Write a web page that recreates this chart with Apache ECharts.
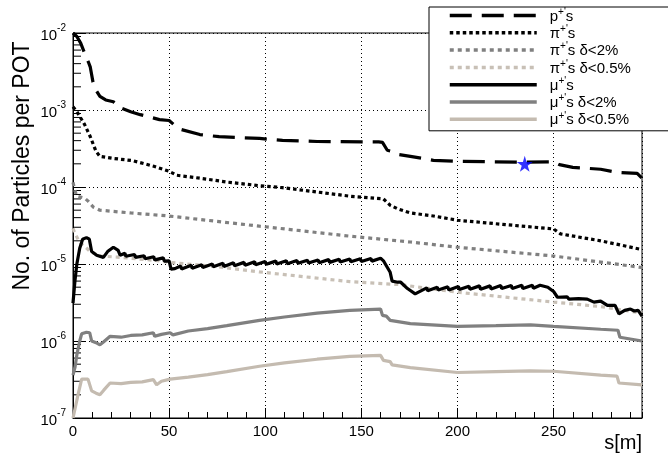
<!DOCTYPE html>
<html>
<head>
<meta charset="utf-8">
<script src="https://cdn.jsdelivr.net/npm/echarts@6/dist/echarts.min.js"></script>
<style>
  html, body { margin: 0; padding: 0; background: #fff; }
  #chart { width: 668px; height: 457px; }
</style>
</head>
<body>
<div id="chart"></div>
<script>
// [s in m, particles per POT]
const protons = [
  [0, 1.0e-2], [2, 9.0e-3], [4, 7.4e-3], [6, 5.5e-3], [8, 4.2e-3], [9, 3.6e-3],
  [10.4, 2.3e-3], [12, 1.8e-3], [14, 1.5e-3], [17, 1.35e-3], [21, 1.28e-3],
  [24.5, 1.07e-3], [30, 9.5e-4], [35, 8.7e-4], [45, 7.5e-4], [50, 7.3e-4],
  [53, 6.3e-4], [56, 5.6e-4], [66, 4.8e-4], [76, 4.5e-4], [97, 4.27e-4],
  [109, 4.03e-4], [127, 3.9e-4], [159, 3.85e-4], [161, 3.8e-4], [163.5, 3.0e-4],
  [166, 2.9e-4], [169, 2.65e-4], [175.5, 2.5e-4], [187.5, 2.22e-4], [200, 2.15e-4],
  [235, 2.1e-4], [250, 2.12e-4], [253, 1.95e-4], [260, 1.8e-4], [274.5, 1.7e-4],
  [283, 1.55e-4], [293.5, 1.5e-4], [296, 1.3e-4]
];
const pions = [
  [0, 1.1e-3], [2, 9.5e-4], [3.6, 8.2e-4], [6, 6.5e-4], [9, 4.5e-4], [10.5, 3.6e-4],
  [12, 2.9e-4], [14, 2.5e-4], [21, 2.35e-4], [31, 2.2e-4], [42, 1.86e-4], [50, 1.6e-4],
  [54, 1.42e-4], [66, 1.3e-4], [80, 1.16e-4], [97, 1.04e-4], [109, 9.8e-5], [127, 8.6e-5],
  [144, 7.6e-5], [161.5, 7.0e-5], [165, 5.8e-5], [169, 5.2e-5], [175.5, 4.6e-5],
  [187.5, 4.2e-5], [200, 3.7e-5], [222, 3.3e-5], [250, 2.85e-5], [253.6, 2.46e-5],
  [274.5, 2.0e-5], [296, 1.54e-5]
];
const pions2 = [
  [0, 1.15e-4], [1, 9.0e-5], [2, 7.6e-5], [6, 7.2e-5], [8, 6.5e-5], [10.5, 5.5e-5],
  [14, 5.0e-5], [30, 4.6e-5], [50, 4.2e-5], [97, 3.1e-5], [144, 2.3e-5], [175.5, 1.93e-5],
  [200, 1.65e-5], [250, 1.27e-5], [274.5, 1.06e-5], [296, 9.0e-6]
];
const pions05 = [
  [0, 2.9e-5], [1, 2.5e-5], [3.5, 1.9e-5], [6, 1.7e-5], [9, 1.45e-5], [14, 1.27e-5],
  [23, 1.23e-5], [45, 1.1e-5], [50, 1.05e-5], [76, 9.2e-6], [97, 7.9e-6], [144, 5.9e-6],
  [170, 5.4e-6], [200, 4.3e-6], [250, 3.2e-6], [274.5, 2.8e-6], [296, 2.3e-6]
];
const muons = [
  [0, 3.1e-6], [1, 6.0e-6], [2, 1.0e-5], [3.5, 1.6e-5], [5, 2.1e-5], [7, 2.2e-5],
  [8.5, 2.1e-5], [9.7, 1.45e-5], [12.3, 1.3e-5], [15.8, 1.22e-5], [18, 1.45e-5],
  [21, 1.65e-5], [23.5, 1.5e-5], [24.5, 1.3e-5],
  [27, 1.38e-5], [27.5, 1.26e-5], [32, 1.33e-5], [32.5, 1.22e-5], [37, 1.28e-5],
  [37.5, 1.17e-5], [42, 1.24e-5], [42.5, 1.13e-5], [47, 1.2e-5], [47.5, 1.09e-5],
  [50, 1.1e-5], [51, 8.6e-6], [53, 8.7e-6],
  [56, 9.4e-6], [56.5, 8.6e-6], [61.5, 9.6e-6], [62, 8.8e-6], [67, 9.8e-6], [67.5, 9.0e-6],
  [72.5, 1.0e-5], [73, 9.2e-6], [78, 1.02e-5], [78.5, 9.3e-6], [83.5, 1.04e-5], [84, 9.5e-6],
  [89, 1.05e-5], [89.5, 9.6e-6], [94.5, 1.07e-5], [95, 9.8e-6], [100, 1.08e-5], [100.5, 9.9e-6],
  [105.5, 1.09e-5], [106, 1.0e-5], [111, 1.1e-5], [111.5, 1.01e-5], [116.5, 1.11e-5],
  [117, 1.02e-5], [122, 1.12e-5], [122.5, 1.03e-5], [127.5, 1.13e-5], [128, 1.04e-5],
  [133, 1.14e-5], [133.5, 1.05e-5], [138.5, 1.15e-5], [139, 1.06e-5], [144, 1.16e-5],
  [144.5, 1.07e-5], [149.5, 1.17e-5], [150, 1.08e-5], [155, 1.18e-5], [155.5, 1.09e-5],
  [160, 1.19e-5],
  [161.5, 1.1e-5], [163, 9.5e-6], [165, 7.8e-6], [166, 6.0e-6], [169, 5.8e-6],
  [170.5, 5.8e-6], [174, 4.8e-6], [178, 4.1e-6], [184, 4.9e-6],
  [184.5, 4.5e-6], [189.5, 5.0e-6], [190, 4.6e-6], [195, 5.05e-6], [195.5, 4.6e-6],
  [200.5, 5.1e-6], [201, 4.65e-6], [206, 5.15e-6], [206.5, 4.7e-6], [211.5, 5.2e-6],
  [212, 4.7e-6], [217, 5.2e-6], [217.5, 4.75e-6], [222.5, 5.25e-6], [223, 4.8e-6],
  [228, 5.25e-6], [228.5, 4.8e-6], [233.5, 5.3e-6], [234, 4.8e-6], [239, 5.3e-6],
  [239.5, 4.85e-6], [243, 5.3e-6], [247, 5.0e-6], [250, 4.4e-6], [252, 3.7e-6],
  [257, 3.75e-6], [258, 3.5e-6], [263, 3.55e-6], [263.5, 3.35e-6], [267.5, 3.5e-6],
  [271, 3.2e-6], [274.5, 3.3e-6], [278, 2.9e-6], [282, 2.9e-6], [284, 2.25e-6],
  [287, 2.5e-6], [290, 2.6e-6], [292, 2.45e-6], [294, 2.5e-6], [296, 2.1e-6]
];
const muons2 = [
  [0, 3.6e-7], [1, 4.5e-7], [2, 6.6e-7], [3.5, 1.0e-6], [4.5, 1.24e-6], [7, 1.3e-6],
  [8.7, 1.28e-6], [9.7, 1.0e-6], [12, 9.5e-7], [14, 8.9e-7], [16, 9.8e-7], [19.3, 1.15e-6],
  [25, 1.12e-6], [30, 1.18e-6], [36, 1.2e-6], [41.8, 1.28e-6], [42.5, 1.15e-6], [46, 1.22e-6],
  [50.5, 1.28e-6], [52, 1.2e-6], [60, 1.35e-6], [70, 1.45e-6], [80, 1.58e-6], [97, 1.85e-6],
  [110, 2.05e-6], [127, 2.3e-6], [144, 2.5e-6], [160, 2.6e-6], [161, 2.15e-6], [163, 2.1e-6],
  [165, 1.85e-6], [175.5, 1.68e-6], [200, 1.55e-6], [220, 1.58e-6], [238, 1.62e-6],
  [250, 1.55e-6], [274.5, 1.42e-6], [283.5, 1.38e-6], [284.5, 1.12e-6], [296, 1.0e-6]
];
const muons05 = [
  [0, 1.0e-7], [1, 1.3e-7], [2.6, 2.0e-7], [4.5, 3.2e-7], [7.8, 3.2e-7], [8.7, 3.1e-7],
  [9.7, 2.25e-7], [12, 2.1e-7], [14, 2.0e-7], [16, 2.3e-7], [19.3, 2.85e-7], [25, 2.8e-7],
  [30, 2.9e-7], [36, 2.95e-7], [41.8, 3.15e-7], [43.5, 2.7e-7], [46, 3.0e-7], [50.5, 3.2e-7],
  [60, 3.4e-7], [70, 3.65e-7], [80, 4.0e-7], [97, 4.7e-7], [110, 5.2e-7], [127, 5.8e-7],
  [144, 6.3e-7], [160, 6.5e-7], [161.5, 5.6e-7], [165, 5.4e-7], [166, 4.9e-7],
  [175.5, 4.5e-7], [200, 3.9e-7], [220, 4.0e-7], [238, 4.1e-7], [250, 4.05e-7],
  [274.5, 3.6e-7], [283, 3.5e-7], [284, 2.85e-7], [296, 2.7e-7]
];
const starPoint = [[235, 2.0e-4]];

const seriesNames = ['p', 'pi', 'pi2', 'pi05', 'mu', 'mu2', 'mu05'];
// legend text: [particle, suffix]
const legendText = {
  p: ['p', ''], pi: ['π', ''], pi2: ['π', ' δ<2%'], pi05: ['π', ' δ<0.5%'],
  mu: ['μ', ''], mu2: ['μ', ' δ<2%'], mu05: ['μ', ' δ<0.5%']
};

// log minor tick positions (2..9 in each decade) – axis decoration only
const yMinorTicks = [];
for (let e = -7; e < -2; e++) {
  for (let k = 2; k <= 9; k++) yMinorTicks.push([0, k * Math.pow(10, e)]);
}

const FONT = 'Liberation Sans';
const chart = echarts.init(document.getElementById('chart'), null, { renderer: 'canvas' });

function line(name, data, color, type) {
  return {
    name: name, type: 'line', data: data, symbol: 'none', animation: false,
    xAxisIndex: 0, yAxisIndex: 0,
    lineStyle: { color: color, width: 3.2, type: type, cap: 'butt' },
    itemStyle: { color: color }
  };
}

chart.setOption({
  backgroundColor: '#fff',
  animation: false,
  grid: { left: 73, right: 26, top: 33, bottom: 39, show: true, borderColor: '#000', borderWidth: 1 },
  xAxis: [{
    type: 'value', min: 0, max: 296, interval: 50,
    axisLine: { lineStyle: { color: '#000', width: 1 } },
    axisTick: { inside: true, length: 10, lineStyle: { color: '#000' } },
    axisLabel: { showMaxLabel: false, color: '#000', fontFamily: FONT, fontSize: 15, margin: 6 },
    splitLine: { show: true, lineStyle: { color: '#000', type: [1, 3], width: 1 } }
  }, {
    type: 'value', min: 0, max: 296, interval: 10, position: 'bottom',
    axisLine: { show: false },
    axisTick: { inside: true, length: 6, lineStyle: { color: '#000' } },
    axisLabel: { show: false },
    splitLine: { show: false }
  }],
  yAxis: {
    type: 'log', logBase: 10, min: 1e-7, max: 1e-2,
    axisLine: { show: true, lineStyle: { color: '#000', width: 1 } },
    axisTick: { inside: true, length: 13, lineStyle: { color: '#000' } },
    axisLabel: {
      color: '#000', margin: 7,
      formatter: function (v) {
        return '{b|10}{s|' + Math.round(Math.log10(v)) + '}';
      },
      rich: {
        b: { fontFamily: FONT, fontSize: 15, color: '#000', lineHeight: 20, verticalAlign: 'bottom' },
        s: { fontFamily: FONT, fontSize: 10, color: '#000', lineHeight: 20, verticalAlign: 'top' }
      }
    },
    splitLine: { show: true, lineStyle: { color: '#000', type: [1, 3], width: 1 } }
  },
  legend: {
    data: seriesNames,
    orient: 'vertical', left: 429, top: 7,
    padding: [0, 40, 3, 19],
    itemWidth: 87, itemHeight: 14, itemGap: 0.3,
    itemStyle: { opacity: 0 },
    lineStyle: { width: 3.5 },
    backgroundColor: '#fff', borderColor: '#000', borderWidth: 1, borderRadius: 0,
    selectedMode: false,
    formatter: function (name) {
      const t = legendText[name];
      return '{t|' + t[0] + '}{s|+\'}{t|s' + t[1] + '}';
    },
    textStyle: {
      padding: [0, 0, 0, 8],
      rich: {
        t: { fontFamily: FONT, fontSize: 15, color: '#000', lineHeight: 17, verticalAlign: 'bottom' },
        s: { fontFamily: FONT, fontSize: 10, color: '#000', lineHeight: 17, verticalAlign: 'top' }
      }
    }
  },
  graphic: [{
    type: 'text', x: 23, y: 166, rotation: Math.PI / 2,
    style: { text: 'No. of Particles per POT', font: '23px "Liberation Sans"', fill: '#000',
      textAlign: 'center', textVerticalAlign: 'middle' }
  }, {
    type: 'text', x: 642, y: 443,
    style: { text: 's[m]', font: '20px "Liberation Sans"', fill: '#000',
      textAlign: 'right', textVerticalAlign: 'middle' }
  }],
  series: [
    line('p', protons, '#000', [22, 10]),
    line('pi', pions, '#000', [3.5, 3]),
    line('pi2', pions2, '#808080', [4, 4]),
    line('pi05', pions05, '#c8c0b6', [4, 4]),
    line('mu', muons, '#000', 'solid'),
    line('mu2', muons2, '#808080', 'solid'),
    line('mu05', muons05, '#c4bbb0', 'solid'),
    {
      type: 'scatter', data: starPoint, silent: true, z: 5,
      symbol: 'path://M50,0 L61,35 L98,35 L68,57 L79,91 L50,70 L21,91 L32,57 L2,35 L39,35 Z',
      symbolSize: 16, itemStyle: { color: '#0000ff' }
    },
    {
      type: 'custom', data: yMinorTicks, silent: true, clip: false,
      renderItem: function (params, api) {
        const p = api.coord([0, api.value(1)]);
        return { type: 'line', shape: { x1: p[0], y1: p[1], x2: p[0] + 8, y2: p[1] },
          style: { stroke: '#000', lineWidth: 1 } };
      }
    }
  ]
});
</script>
</body>
</html>
